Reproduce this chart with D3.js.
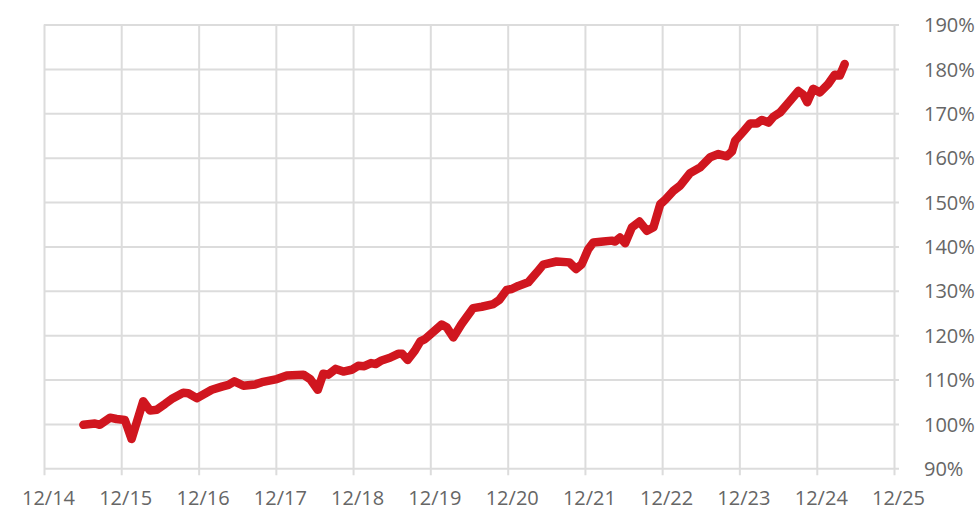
<!DOCTYPE html>
<html>
<head>
<meta charset="utf-8">
<script src="https://cdn.jsdelivr.net/npm/d3@7"></script>
<style>
  body { margin: 0; background: #fff; }
  #chart text { font-family: "Open Sans", sans-serif; }
</style>
</head>
<body>
<div id="chart"></div>
<script>
const width = 980,
    height = 509,
    plotLeft = 44,
    plotRight = 894,
    plotTop = 24.5,
    plotBottom = 468.3,
    lineColor = '#d0161f',
    gridColor = '#dcdcdc',
    textColor = '#666666';

// Dates of the plotted points and the index level (%)
const dates = [
  '2015-07-05', '2015-08-29', '2015-09-21', '2015-11-08', '2015-12-09', '2016-01-17',
  '2016-02-18', '2016-04-13', '2016-05-15', '2016-06-16', '2016-07-25', '2016-08-25',
  '2016-10-19', '2016-11-12', '2016-12-22', '2017-01-14', '2017-03-03', '2017-04-20',
  '2017-05-21', '2017-06-18', '2017-07-31', '2017-09-24', '2017-10-26', '2018-01-05',
  '2018-02-21', '2018-05-10', '2018-06-11', '2018-07-17', '2018-08-12', '2018-09-05',
  '2018-10-10', '2018-11-15', '2018-12-24', '2019-01-24', '2019-02-22', '2019-03-26',
  '2019-04-17', '2019-05-15', '2019-06-23', '2019-08-01', '2019-08-20', '2019-09-15',
  '2019-10-19', '2019-11-14', '2019-12-06', '2020-02-23', '2020-03-17', '2020-04-18',
  '2020-05-27', '2020-07-21', '2020-08-30', '2020-10-24', '2020-11-21', '2020-12-26',
  '2021-01-19', '2021-02-19', '2021-04-07', '2021-05-17', '2021-06-17', '2021-08-19',
  '2021-10-18', '2021-11-19', '2021-12-16', '2022-01-16', '2022-02-09', '2022-03-28',
  '2022-05-07', '2022-05-23', '2022-06-15', '2022-07-09', '2022-08-10', '2022-09-15',
  '2022-10-20', '2022-11-20', '2022-12-22', '2023-01-14', '2023-02-22', '2023-03-26',
  '2023-05-12', '2023-06-29', '2023-08-15', '2023-09-23', '2023-11-02', '2023-11-26',
  '2023-12-11', '2024-01-19', '2024-02-20', '2024-03-23', '2024-04-15', '2024-05-17',
  '2024-06-09', '2024-07-11', '2024-08-27', '2024-10-05', '2024-10-28', '2024-11-16',
  '2024-12-14', '2025-01-15', '2025-02-23', '2025-03-26', '2025-04-19', '2025-05-12'
];

const values = [
  99.8, 100.1, 99.8, 101.4, 101.1, 100.9,
  96.6, 105.1, 103.0, 103.2, 104.5, 105.6,
  107.0, 106.9, 105.8, 106.4, 107.7, 108.4,
  108.8, 109.6, 108.6, 108.9, 109.4, 110.1,
  110.9, 111.1, 110.1, 107.7, 111.3, 111.1,
  112.4, 111.8, 112.2, 113.1, 113.0, 113.7,
  113.5, 114.3, 114.9, 115.8, 115.8, 114.4,
  116.5, 118.6, 119.1, 122.4, 121.8, 119.5,
  122.5, 126.1, 126.4, 127.0, 127.9, 130.2,
  130.4, 131.1, 131.9, 134.1, 135.9, 136.6,
  136.4, 134.9, 136.0, 139.4, 140.9, 141.1,
  141.3, 141.1, 142.0, 140.7, 144.3, 145.6,
  143.5, 144.3, 149.5, 150.5, 152.5, 153.7,
  156.5, 157.8, 160.1, 160.8, 160.3, 161.4,
  163.8, 165.9, 167.7, 167.7, 168.5, 167.9,
  169.2, 170.2, 172.8, 175.0, 174.2, 172.5,
  175.5, 174.7, 176.6, 178.7, 178.5, 181.1
];

// Axis ticks
const xTicks = ['2014-12-31', '2015-12-31', '2016-12-31', '2017-12-31', '2018-12-31', '2019-12-31',
  '2020-12-31', '2021-12-31', '2022-12-31', '2023-12-31', '2024-12-31', '2025-12-31'];
const yTicks = [90, 100, 110, 120, 130, 140, 150, 160, 170, 180, 190];

const parse = d3.timeParse('%Y-%m-%d');
const data = dates.map((d, i) => ({ date: parse(d), value: values[i] }));
const xTickDates = xTicks.map(parse);

const svg = d3.select('#chart').append('svg')
    .attr('width', width)
    .attr('height', height);

const x = d3.scaleTime()
    .domain([xTickDates[0], xTickDates[xTickDates.length - 1]])
    .range([plotLeft, plotRight]);

const y = d3.scaleLinear()
    .domain([90, 190])
    .range([plotBottom, plotTop]);

// Vertical grid + date labels
const xAxis = svg.append('g')
    .attr('transform', 'translate(0,' + (plotBottom + 7) + ')')
    .call(d3.axisBottom(x)
        .tickValues(xTickDates)
        .tickFormat(d3.timeFormat('%m/%y'))
        .tickSizeInner(-(plotBottom + 7 - plotTop))
        .tickSizeOuter(0)
        .tickPadding(15.5));

// Horizontal grid + percent labels
const yAxis = svg.append('g')
    .attr('transform', 'translate(' + (plotRight + 5) + ',0)')
    .call(d3.axisRight(y)
        .tickValues(yTicks)
        .tickFormat(d => d + '%')
        .tickSizeInner(-(plotRight + 5 - plotLeft))
        .tickSizeOuter(0)
        .tickPadding(25));

[xAxis, yAxis].forEach(g => {
  g.select('.domain').remove();
  g.selectAll('.tick line')
      .attr('stroke', gridColor)
      .attr('stroke-width', 2);
  g.selectAll('.tick text')
      .attr('fill', textColor)
      .style('font-size', '20px');
});

xAxis.selectAll('.tick text').attr('dx', 4);
yAxis.selectAll('.tick text').attr('dy', '0.36em');

const line = d3.line()
    .x(d => x(d.date))
    .y(d => y(d.value));

svg.append('path')
    .datum(data)
    .attr('d', line)
    .attr('fill', 'none')
    .attr('stroke', lineColor)
    .attr('stroke-width', 8.5)
    .attr('stroke-linejoin', 'round')
    .attr('stroke-linecap', 'round');
</script>
</body>
</html>
